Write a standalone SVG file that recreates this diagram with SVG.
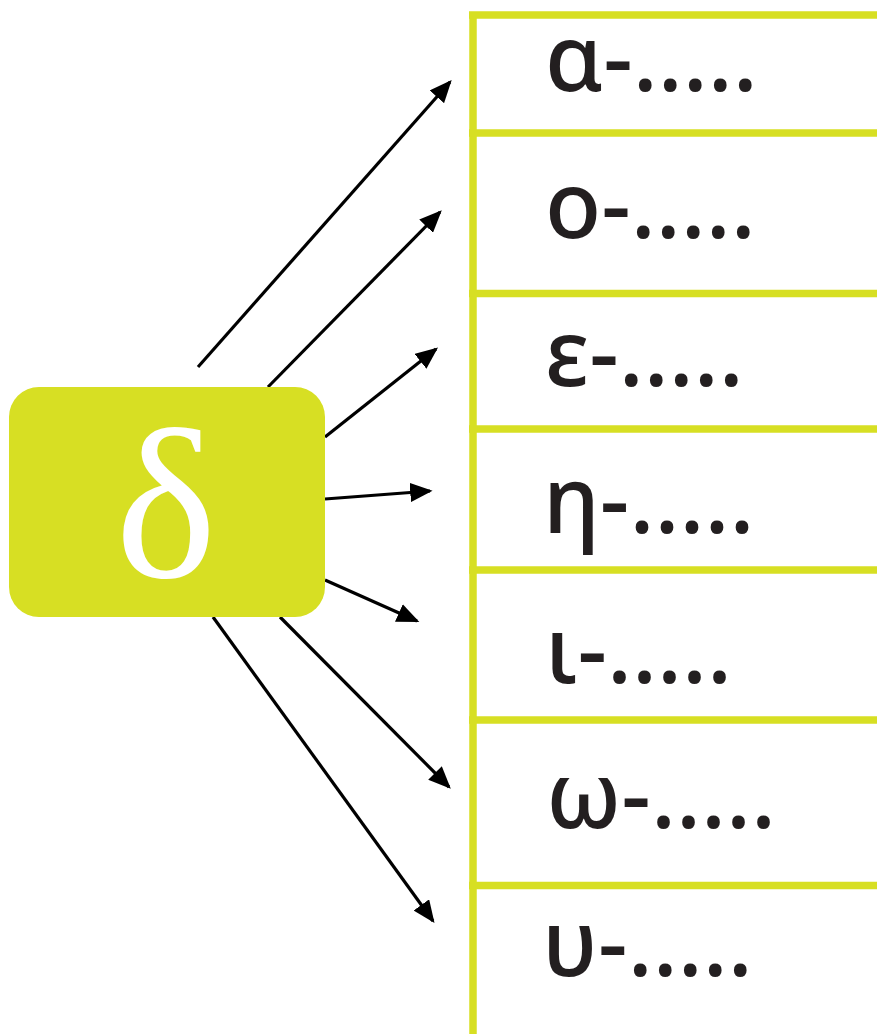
<svg xmlns="http://www.w3.org/2000/svg" width="877" height="1034" viewBox="0 0 877 1034">
<style>
.grid{stroke:#d7df23;stroke-width:7.5;fill:none}
.lbl{font-family:"Noto Sans","Open Sans",sans-serif;font-size:92px;font-weight:500;fill:#231f20}
.conn{stroke:#000;stroke-width:3.2;fill:none;marker-end:url(#ah)}
</style>
<defs>
<marker id="ah" markerWidth="7" markerHeight="6" refX="6.2" refY="3" orient="auto" markerUnits="strokeWidth">
<path d="M0,0 L7,3 L0,6 Z" fill="#000"/>
</marker>
</defs>
<rect width="877" height="1034" fill="#fff"/>
<g id="table">
<path class="grid" d="M473,11.5 V1034 M469,15 H877 M469,133 H877 M469,293.5 H877 M469,429 H877 M469,570 H877 M469,720 H877 M469,885.5 H877"/>
</g>
<g id="connectors">
<line class="conn" x1="198" y1="367" x2="450" y2="82"/>
<line class="conn" x1="268" y1="387" x2="440" y2="212"/>
<line class="conn" x1="325" y1="437" x2="436" y2="349"/>
<line class="conn" x1="325" y1="499" x2="430" y2="491"/>
<line class="conn" x1="325" y1="580" x2="417" y2="621"/>
<line class="conn" x1="280" y1="617" x2="449" y2="787"/>
<line class="conn" x1="213" y1="617" x2="433" y2="921"/>
</g>
<g id="node-delta">
<rect x="9" y="387" width="316" height="230" rx="30" ry="30" fill="#d7df23"/>
<text x="166" y="577" text-anchor="middle" font-family="'Liberation Serif','DejaVu Serif',serif" font-size="215" fill="#fff">δ</text>
</g>
<g id="row-alpha"><text class="lbl" x="545" y="91">α-.....</text></g>
<g id="row-omicron"><text class="lbl" x="545" y="238">ο-.....</text></g>
<g id="row-epsilon"><text class="lbl" x="545" y="386">ε-.....</text></g>
<g id="row-eta"><text class="lbl" x="543" y="533">η-.....</text></g>
<g id="row-iota"><text class="lbl" x="545" y="683">ι-.....</text></g>
<g id="row-omega"><text class="lbl" x="546" y="828">ω-.....</text></g>
<g id="row-upsilon"><text class="lbl" x="542" y="976">υ-.....</text></g>
</svg>
